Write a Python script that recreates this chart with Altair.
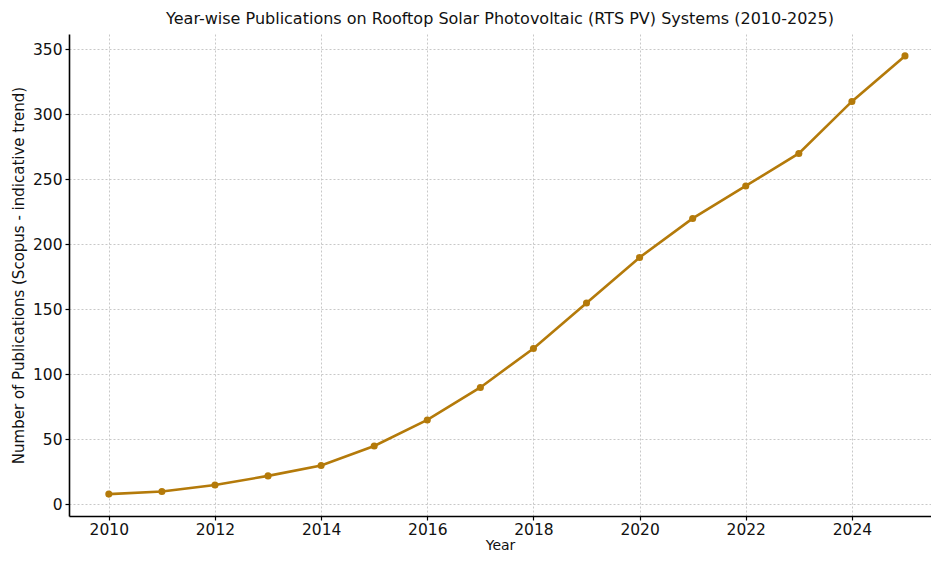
import altair as alt
import pandas as pd

years = list(range(2010, 2026))
pubs = [8, 10, 15, 22, 30, 45, 65, 90, 120, 155, 190, 220, 245, 270, 310, 345]

df = pd.DataFrame({"Year": years, "Publications": pubs})

color = "#b47a0a"
font = "DejaVu Sans"

x = alt.X("Year:Q", title="Year",
          scale=alt.Scale(domain=[2009.25, 2025.49], nice=False, zero=False),
          axis=alt.Axis(values=list(range(2010, 2026, 2)), format="d",
                        grid=True, gridDash=[2, 2], gridColor="#c8c8c8",
                        domainColor="black", domainWidth=1.6, tickColor="black",
                        tickSize=4, tickWidth=1.2, labelFontSize=15.5, labelColor="#111111",
                        titleFontSize=14, titleFontWeight="normal", titleColor="#111111",
                        titlePadding=1, labelPadding=2, labelFont=font, titleFont=font))
y = alt.Y("Publications:Q", title="Number of Publications (Scopus - indicative trend)",
          scale=alt.Scale(domain=[-8.85, 361.85], nice=False, zero=False),
          axis=alt.Axis(values=list(range(0, 351, 50)),
                        grid=True, gridDash=[2, 2], gridColor="#c8c8c8",
                        domainColor="black", domainWidth=1.6, tickColor="black",
                        tickSize=4, tickWidth=1.2, labelFontSize=15.5, labelColor="#111111",
                        titleFontSize=15, titleFontWeight="normal", titleColor="#111111",
                        titlePadding=6, labelPadding=3, labelFont=font, titleFont=font))

base = alt.Chart(df)
line = base.mark_line(color=color, strokeWidth=2.6).encode(x=x, y=y)
pts = base.mark_circle(color=color, size=50, opacity=1).encode(x=x, y=y)

chart = (line + pts).properties(
    width=862, height=482,
    title=alt.TitleParams("Year-wise Publications on Rooftop Solar Photovoltaic (RTS PV) Systems (2010-2025)",
                          fontSize=16, fontWeight="normal", font=font, color="#111111", offset=7),
    autosize=alt.AutoSizeParams(type="none"),
    padding={"left": 61, "top": 26, "right": 0, "bottom": 38},
).configure_view(stroke=None)

chart.save("out.html", embed_options={"renderer": "svg", "actions": False})
